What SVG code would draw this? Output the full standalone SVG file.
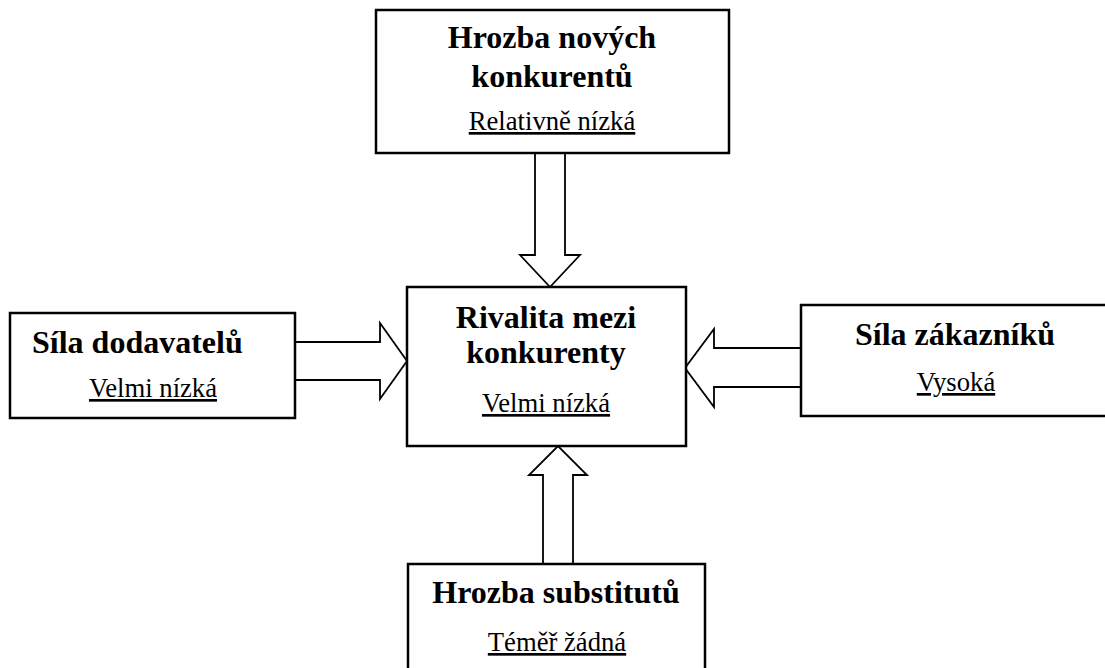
<svg xmlns="http://www.w3.org/2000/svg" width="1105" height="668" viewBox="0 0 1105 668">
  <style>
    .box { fill: #ffffff; stroke: #000000; stroke-width: 2.5; }
    .arrow { fill: #ffffff; stroke: #000000; stroke-width: 1.8; stroke-linejoin: miter; }
    .title { font-family: "Liberation Serif", "Times New Roman", serif; font-weight: bold; font-size: 32px; fill: #000000; text-anchor: middle; }
    .level { font-family: "Liberation Serif", "Times New Roman", serif; font-size: 26.67px; fill: #000000; text-anchor: middle; text-decoration: underline; }
  </style>
  <rect width="1105" height="668" fill="#ffffff"/>

  <!-- block arrows -->
  <g id="connectors">
    <polygon class="arrow" points="535,153 565,153 565,255 580,255 550,287 520,255 535,255"/>
    <polygon class="arrow" points="295,342 380,342 380,323 407,361 380,399 380,380 295,380"/>
    <polygon class="arrow" points="801,348 714,348 714,329 685,368 714,407 714,387 801,387"/>
    <polygon class="arrow" points="543,564 543,475 529,475 558,446 587,475 573,475 573,564"/>
  </g>

  <g id="new-entrants">
    <rect class="box" x="376" y="10" width="353" height="143"/>
    <text class="title" x="552" y="48">Hrozba nových</text>
    <text class="title" x="552" y="87">konkurentů</text>
    <text class="level" x="552" y="130">Relativně nízká</text>
  </g>

  <g id="suppliers">
    <rect class="box" x="10" y="313" width="285" height="105"/>
    <text class="title" x="32" y="353" style="text-anchor:start">Síla dodavatelů</text>
    <text class="level" x="153" y="397">Velmi nízká</text>
  </g>

  <g id="rivalry">
    <rect class="box" x="407" y="287" width="279" height="159"/>
    <text class="title" x="546" y="328">Rivalita mezi</text>
    <text class="title" x="546" y="363">konkurenty</text>
    <text class="level" x="546" y="412">Velmi nízká</text>
  </g>

  <g id="customers">
    <rect class="box" x="801" y="305" width="320" height="111"/>
    <text class="title" x="955" y="345">Síla zákazníků</text>
    <text class="level" x="956" y="391">Vysoká</text>
  </g>

  <g id="substitutes">
    <rect class="box" x="408" y="564" width="297" height="120"/>
    <text class="title" x="556" y="603">Hrozba substitutů</text>
    <text class="level" x="557" y="651">Téměř žádná</text>
  </g>
</svg>
